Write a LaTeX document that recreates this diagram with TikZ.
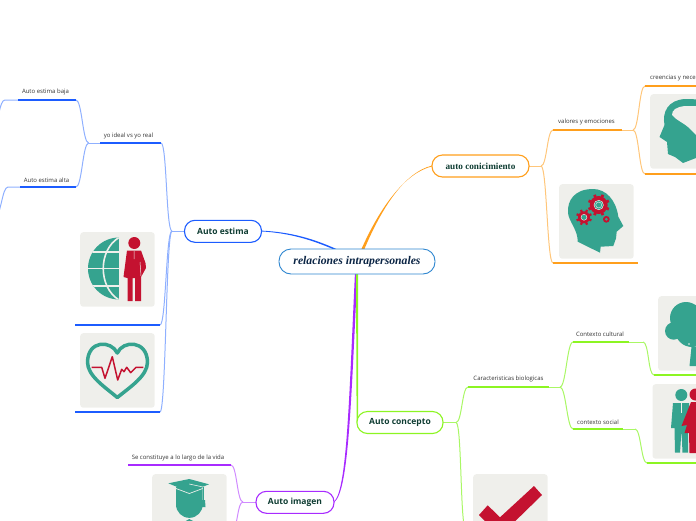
\documentclass[tikz,border=0pt]{standalone}
\usepackage{fontspec}
\setmainfont{Open Sans}
\newfontfamily\rootfont{Liberation Serif}
\usetikzlibrary{calc}
\definecolor{cblue}{HTML}{1C5CFF}
\definecolor{lblue}{HTML}{8FB0FF}
\definecolor{corange}{HTML}{FF9F1C}
\definecolor{lorange}{HTML}{FFC67A}
\definecolor{cgreen}{HTML}{8CF522}
\definecolor{lgreen}{HTML}{A9F765}
\definecolor{cpurple}{HTML}{A82BFF}
\definecolor{lpurple}{HTML}{D08BFF}
\definecolor{rootline}{HTML}{2E86D0}
\definecolor{teal}{HTML}{35A38F}
\definecolor{crimson}{HTML}{C41230}
\definecolor{boxbg}{HTML}{EFEFEB}
\definecolor{inktxt}{HTML}{333333}
\definecolor{topic}{HTML}{0F3D33}
\definecolor{rootink}{HTML}{0B2545}
\newcommand{\scurve}[2]{(#1) .. controls +(6,0) and +(-6,0) .. (#2)}
\newcommand{\gearicon}[5]{%
  \begin{scope}[shift={(#1,#2)}]
    \fill[crimson] (0,0) circle (#3);
    \foreach \k in {0,...,7}{\draw[crimson,line width=#5] ({\k*45+22.5}:#3-.5) -- ({\k*45+22.5}:#3+2);}
    \fill[boxbg] (0,0) circle (#4);
    \fill[teal] (0,0) circle (#4-.6);
  \end{scope}}
\tikzset{
  x=1pt,y=-1pt,
  topicnode/.style={draw,fill=white,line width=1.1pt,rounded corners=10.5pt,minimum height=22pt,inner sep=0pt,text=topic,font=\fontsize{8.5}{10}\selectfont\bfseries},
  rootnode/.style={draw=rootline,fill=white,line width=.9pt,rounded corners=12pt,minimum width=156pt,minimum height=25pt,inner sep=0pt,text=rootink,font=\rootfont\fontsize{11.7}{14}\selectfont\bfseries\itshape},
  leaf/.style={inner sep=0pt,text=inktxt,font=\fontsize{6}{7}\selectfont},
  imgbox/.style={fill=boxbg,rounded corners=3pt,minimum width=74.5pt,minimum height=74.5pt,inner sep=0pt,anchor=north west},
  branch/.style={line width=1pt},
  rule/.style={line width=1.6pt},
}
\begin{document}
\begin{tikzpicture}
\useasboundingbox (0,0) rectangle (696,520);
\clip (0,0) rectangle (696,520);
% ---------- coordinates
\coordinate (jE) at (172,231);
\coordinate (yoL) at (100,143); \coordinate (yoR) at (161,143); \coordinate (jY) at (88.7,143);
\coordinate (bajaL) at (18,100); \coordinate (bajaR) at (76,100); \coordinate (bajaE) at (5,100); \coordinate (bajaO) at (-7,125);
\coordinate (altaL) at (20,187); \coordinate (altaR) at (76,187); \coordinate (altaE) at (8,187); \coordinate (altaO) at (-5,217);
\coordinate (im1L) at (75,325); \coordinate (im1R) at (160,325);
\coordinate (im2L) at (75,412); \coordinate (im2R) at (160,412);
\coordinate (jI) at (243,502);
\coordinate (seL) at (128,465); \coordinate (seR) at (231,465); \coordinate (capO) at (232,530);
\coordinate (jA) at (541,166);
\coordinate (vaL) at (553,130); \coordinate (vaR) at (622,130); \coordinate (vaE) at (633,130);
\coordinate (crL) at (645,86); \coordinate (crR) at (697,86);
\coordinate (hbL) at (645,174); \coordinate (hbR) at (697,174);
\coordinate (hgL) at (553,263); \coordinate (hgR) at (638,263);
\coordinate (jC) at (456,422.5);
\coordinate (caL) at (468,387); \coordinate (caR) at (549,387); \coordinate (caE) at (560,387);
\coordinate (cuL) at (573,342); \coordinate (cuR) at (629,342); \coordinate (cuE) at (643,342);
\coordinate (trL) at (654,375); \coordinate (trR) at (697,375);
\coordinate (soL) at (573,429); \coordinate (soR) at (623,429); \coordinate (soE) at (635,429);
\coordinate (peL) at (647,463); \coordinate (peR) at (697,463);
\coordinate (ckO) at (466,530);
% ---------- image boxes
\node[imgbox] (boxglobe) at (80,232) {};
\node[imgbox] (boxheart) at (80,333) {};
\node[imgbox] (boxcap) at (152,474) {};
\node[imgbox] (boxgear) at (559,184) {};
\node[imgbox] (boxhead) at (650,94) {};
\node[imgbox] (boxtree) at (658,296) {};
\node[imgbox] (boxpeople) at (652.3,384) {};
\node[imgbox] (boxcheck) at (473,474) {};
% ---------- main tapered connectors
\fill[cblue] (337.5,249.5) .. controls (312,238) and (290,232) .. (261,230.6) -- (261,231.4) .. controls (290,233) and (312,240) .. (334,249.5) -- cycle;
\fill[corange] (364,250) .. controls (382,207) and (405,172) .. (432,165.6) -- (432,166.4) .. controls (405,173) and (380,207) .. (361,250) -- cycle;
\fill[cpurple] (355,272) .. controls (349,400) and (347,490) .. (334,501.7) -- (334,502.4) .. controls (349,492) and (351,400) .. (357.5,272) -- cycle;
\fill[cgreen] (356,272) -- (358,272) -- (358,422) -- (356.6,422) -- cycle;
% ---------- blue branches
\draw[branch,lblue] (184,231) -- (jE);
\draw[branch,lblue] \scurve{yoR}{jE};
\draw[branch,lblue] \scurve{im1R}{jE};
\draw[branch,lblue] \scurve{im2R}{jE};
\draw[branch,lblue] (jY) -- (yoL);
\draw[branch,lblue] \scurve{bajaR}{jY};
\draw[branch,lblue] \scurve{altaR}{jY};
\draw[branch,lblue] (bajaL) -- (bajaE) .. controls +(-6,0) and +(6,0) .. (bajaO);
\draw[branch,lblue] (altaL) -- (altaE) .. controls +(-6,0) and +(6,0) .. (altaO);
\draw[rule,cblue] (yoL) -- (yoR);
\draw[rule,cblue] (bajaL) -- (bajaR);
\draw[rule,cblue] (altaL) -- (altaR);
\draw[rule,cblue] (im1L) -- (im1R);
\draw[rule,cblue] (im2L) -- (im2R);
% ---------- purple branches
\draw[branch,lpurple] (256,502) -- (jI);
\draw[branch,lpurple] \scurve{seR}{jI};
\draw[branch,lpurple] \scurve{capO}{jI};
\draw[rule,cpurple] (seL) -- (seR);
% ---------- orange branches
\draw[branch,lorange] (529,166) -- (jA);
\draw[branch,lorange] \scurve{jA}{vaL};
\draw[branch,lorange] \scurve{jA}{hgL};
\draw[branch,lorange] (vaR) -- (vaE);
\draw[branch,lorange] \scurve{vaE}{crL};
\draw[branch,lorange] \scurve{vaE}{hbL};
\draw[rule,corange] (vaL) -- (vaR);
\draw[rule,corange] (crL) -- (crR);
\draw[rule,corange] (hbL) -- (hbR);
\draw[rule,corange] (hgL) -- (hgR);
% ---------- green branches
\draw[branch,lgreen] (443,422.5) -- (jC);
\draw[branch,lgreen] \scurve{jC}{caL};
\draw[branch,lgreen] \scurve{jC}{ckO};
\draw[branch,lgreen] (caR) -- (caE);
\draw[branch,lgreen] \scurve{caE}{cuL};
\draw[branch,lgreen] \scurve{caE}{soL};
\draw[branch,lgreen] (cuR) -- (cuE);
\draw[branch,lgreen] \scurve{cuE}{trL};
\draw[branch,lgreen] (soR) -- (soE);
\draw[branch,lgreen] \scurve{soE}{peL};
\draw[rule,cgreen] (caL) -- (caR);
\draw[rule,cgreen] (cuL) -- (cuR);
\draw[rule,cgreen] (soL) -- (soR);
\draw[rule,cgreen] (trL) -- (trR);
\draw[rule,cgreen] (peL) -- (peR);
% ---------- nodes
\node[rootnode] (root) at (357,261.5) {relaciones intrapersonales};
\node[topicnode,draw=cblue,minimum width=77pt] (estima) at (223,231.3) {Auto estima};
\node[topicnode,draw=corange,minimum width=97pt,font=\rootfont\fontsize{9.2}{11}\selectfont\bfseries] (conoc) at (480.5,166) {auto conicimiento};
\node[topicnode,draw=cgreen,minimum width=86pt] (concepto) at (400,422.5) {Auto concepto};
\node[topicnode,draw=cpurple,minimum width=78pt] (imagen) at (295,502.3) {Auto imagen};
\node[leaf] (tbaja) at (45.5,92) {Auto estima baja};
\node[leaf] (talta) at (46.5,180) {Auto estima alta};
\node[leaf] (tyo) at (128.5,136) {yo ideal vs yo real};
\node[leaf] (tse) at (178,458) {Se constituye a lo largo de la vida};
\node[leaf] (tva) at (586.5,122.3) {valores y emociones};
\node[leaf,anchor=west] (tcr) at (650,78) {creencias y nece};
\node[leaf] (tca) at (508.5,378.5) {Caracteristicas biologicas};
\node[leaf] (tcu) at (600,334.2) {Contexto cultural};
\node[leaf] (tso) at (598,422.3) {contexto social};
% ---------- globe and man
\begin{scope}
  \clip (119,237.5) arc (270:90:31) -- cycle;
  \fill[teal] (85,235) rectangle (119,302);
  \draw[boxbg,line width=1.6pt] (85,251.7) -- (119,251.7) (85,268.5) -- (119,268.5) (85,286) -- (119,286);
  \draw[boxbg,line width=1.6pt] (119,237.5) .. controls (98,250) and (98,287) .. (119,300);
\end{scope}
\fill[crimson] (134.3,243) circle (6);
\fill[crimson] (127,250.5) -- (141,250.5) -- (145.5,263) -- (146,268) -- (141,277) -- (141,301) -- (135,301) -- (135,278) -- (132.5,278) -- (132.5,301) -- (127.5,301) -- (127.5,278) -- (123.5,277) -- cycle;
\draw[boxbg,line width=.5pt] (134,251) -- (134,259) (140,262) -- (141,276);
% ---------- heart
\draw[teal,line width=3.5pt,line join=round] (117.3,353) .. controls (111,340) and (88,340) .. (87.5,362) .. controls (87.5,376) and (105,387) .. (117.3,397.5) .. controls (130,387) and (147.5,376) .. (147.5,362) .. controls (147,340) and (123,340) .. (117.3,353) -- cycle;
\draw[crimson,line width=1.5pt,line join=round] (91.7,367.3) -- (101.7,367.3) -- (105,378.3) -- (112.3,356.7) -- (117.7,380) -- (121.7,369.3) -- (124,371.7) -- (126.7,367.3) -- (130.7,372.7) -- (136,367.3) -- (143.3,367.3);
% ---------- graduate
\fill[teal] (176,487) -- (202.7,487) -- (202.7,504.5) arc (0:180:13.35) -- cycle;
\fill[teal] (184,522) -- (195,522) -- (189.3,519) -- cycle;
\fill[teal] (168.3,483.3) -- (189.3,479) -- (209,484.3) -- (189.3,492) -- cycle;
\draw[boxbg,line width=.7pt] (176,488.5) -- (189.3,493.5) -- (202.7,488.5);
\draw[boxbg,line width=.6pt] (189.3,484) -- (203,487);
\draw[teal,line width=.8pt] (203,487) -- (203,500);
\fill[teal] (201,500) -- (205,500) -- (205.5,507) -- (200.5,507) -- cycle;
% ---------- gear head
\fill[teal] (577.7,241.7) -- (600,252.7) -- (600.7,246.7) -- (613.3,246) -- (616,238.3) -- (616.7,231.7) -- (623.3,226) -- (618.3,216.7) .. controls (616,200) and (606,189) .. (593,189) .. controls (575,189) and (567,200) .. (568,213) .. controls (569,222) and (578,230) .. (577.7,241.7) -- cycle;
\gearicon{598.7}{205}{9}{5}{2.8pt}
\draw[boxbg,line width=.4pt] (598.7,205) circle (3);
\gearicon{584}{217.3}{6}{3.2}{2.2pt}
\fill[crimson] (606.3,219.3) circle (3.4);
\fill[teal] (606.3,219.3) circle (1.5);
% ---------- profile head
\fill[teal] (683,163) -- (675,157) -- (668,154) -- (667,142) -- (659.5,137) -- (664.5,125) .. controls (662,112) and (668,100) .. (685,99) -- (720,100) -- (720,150) -- (696,158) -- cycle;
\fill[boxbg] (672,115) .. controls (672,110) and (676,107) .. (685,106) -- (720,106) -- (720,140) -- (696,135) -- (688,127) .. controls (682,122) and (676,120) .. (672,115) -- cycle;
% ---------- tree
\fill[teal] (673.7,331) circle (8.7);
\fill[teal] (686,318) circle (16);
\fill[teal] (692,330) circle (17);
\fill[teal] (706,322) circle (20);
\fill[teal] (689.5,366) -- (691.5,347) -- (712,347) -- (712,366) -- cycle;
\fill[boxbg] (689,344) circle (.8);
% ---------- people
\fill[teal] (681.3,395) circle (6);
\fill[teal] (673,403) -- (689,403) -- (691,425) -- (688,428) -- (688,452.7) -- (682.5,452.7) -- (681.5,430) -- (680,452.7) -- (675,452.7) -- (674.5,428) -- (671,428) -- cycle;
\draw[boxbg,line width=.5pt] (681,403) -- (681,413);
\fill[crimson] (695.5,394.5) circle (6);
\fill[crimson] (691,402) -- (710,402) -- (718,433) -- (708,433) -- (708,453) -- (701,453) -- (701,433) -- (696,433) -- (696,453) -- (689.5,453) -- (689,433) -- (684.5,433) -- (687,425) -- (681.5,426) -- cycle;
% ---------- check mark
\fill[crimson] (479,515) -- (487.7,505.3) -- (500,517.3) -- (534,486) -- (542,495) -- (500,536) -- cycle;
\end{tikzpicture}
\end{document}
